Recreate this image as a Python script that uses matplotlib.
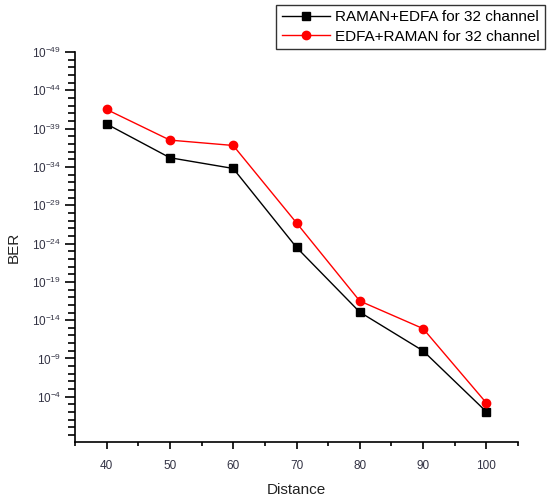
import matplotlib
matplotlib.use("Agg")
import matplotlib.pyplot as plt
from matplotlib.ticker import FixedLocator, LogFormatterMathtext, NullFormatter

plt.rcParams['font.family'] = ['Liberation Sans', 'DejaVu Sans']

distance = [40, 50, 60, 70, 80, 90, 100]
# BER exponents (log10 BER)
raman_edfa_exp = [-39.6, -35.2, -33.8, -23.5, -15.05, -10.0, -2.05]
edfa_raman_exp = [-41.5, -37.5, -36.8, -26.7, -16.5, -12.9, -3.2]
major_exp = [-49, -44, -39, -34, -29, -24, -19, -14, -9, -4]

raman_edfa = [10.0 ** e for e in raman_edfa_exp]
edfa_raman = [10.0 ** e for e in edfa_raman_exp]

fig = plt.figure(figsize=(5.47, 4.99), dpi=100)
ax = fig.add_axes([75/547, 1 - 442/499, (518-75)/547, (442-52)/499])

ax.plot(distance, raman_edfa, color='black', marker='s', markersize=5.5, lw=1,
        label='RAMAN+EDFA for 32 channel')
ax.plot(distance, edfa_raman, color='red', marker='o', markersize=6, lw=1,
        label='EDFA+RAMAN for 32 channel')

ax.set_yscale('log')
ax.set_ylim(10.0 ** 1.9, 10.0 ** -49)
ax.yaxis.set_major_locator(FixedLocator([10.0 ** e for e in major_exp]))
ax.yaxis.set_major_formatter(LogFormatterMathtext())
ax.yaxis.set_minor_locator(FixedLocator([10.0 ** e for e in range(-49, 2)]))
ax.yaxis.set_minor_formatter(NullFormatter())

ax.set_xlim(35, 105)
ax.set_xticks([40, 50, 60, 70, 80, 90, 100])
ax.set_xticks([35, 45, 55, 65, 75, 85, 95, 105], minor=True)

for s in ['top', 'right']:
    ax.spines[s].set_visible(False)
for s in ['left', 'bottom']:
    ax.spines[s].set_linewidth(1.2)

ax.tick_params(axis='y', which='major', direction='out', length=7, width=1.2,
               labelsize=8.5, labelcolor='#333344', pad=3)
ax.tick_params(axis='y', which='minor', direction='out', length=5, width=1.2)
ax.tick_params(axis='x', which='major', direction='out', length=5, width=1.2,
               labelsize=8.5, labelcolor='#333344', pad=8)
ax.tick_params(axis='x', which='minor', direction='out', length=3, width=1.2)

ax.set_xlabel('Distance', fontsize=11, color='#222222', labelpad=8)
ax.set_ylabel('BER', fontsize=11, color='#222222', labelpad=8)

leg = fig.legend(loc='upper right', bbox_to_anchor=(545/547, 1 - 5/499),
                 fontsize=11, frameon=True, fancybox=False, edgecolor='black',
                 handlelength=3.2, borderpad=0.35, labelspacing=0.35, handletextpad=0.3,
                 borderaxespad=0.0)
leg.get_frame().set_linewidth(1.0)

fig.savefig('out.png', dpi=100)
